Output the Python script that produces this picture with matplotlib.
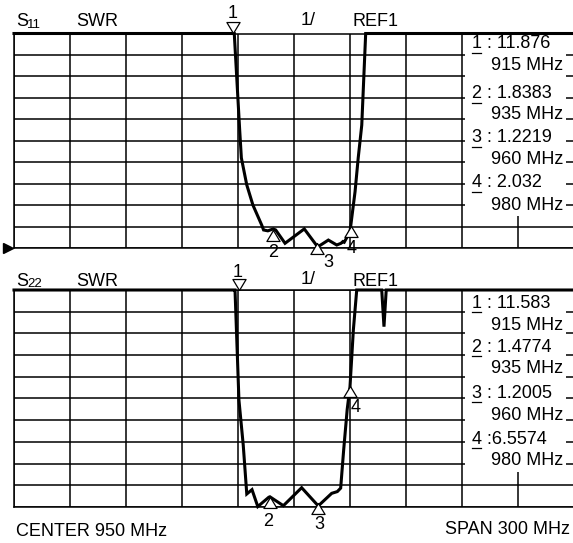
import numpy as np
import matplotlib
matplotlib.use("Agg")
import matplotlib.pyplot as plt
from matplotlib.path import Path
from matplotlib.patches import Rectangle
from matplotlib.lines import Line2D
from matplotlib.transforms import offset_copy

plt.rcParams['font.family'] = ['Liberation Sans', 'DejaVu Sans']

# ---------------- data ----------------
freq_start, freq_stop = 800, 1100       # CENTER 950 MHz, SPAN 300 MHz
swr_ref, swr_top = 1, 11                # REF 1, 1 / div

s11_freq = [800, 917.3, 918.0, 920.9, 921.8, 924.7, 928.0, 932.7, 933.7, 936.0,
            938.9, 940.2, 945.2, 955.5, 962.7, 968.4, 972.9, 975.2, 976.2, 976.9,
            980.0, 982.7, 984.4, 986.3, 988.4, 1100]
s11_swr = [12.5, 12.0, 11.0, 6.5, 5.2, 3.94, 3.0, 2.07, 1.84, 1.80,
           1.89, 1.84, 1.22, 1.89, 1.05, 1.37, 1.14, 1.22, 1.30, 1.27,
           1.76, 3.62, 5.2, 6.73, 11.0, 12.5]

s22_freq = [800, 918.0, 918.4, 920.5, 922.8, 924.7, 927.5, 930.6, 936.5, 937.1,
            944.3, 954.1, 963.0, 970.2, 973.2, 975.0, 976.6, 978.5, 980.0, 981.8,
            983.6, 997.0, 998.2, 999.4, 1100]
s22_swr = [12.5, 12.0, 11.0, 5.93, 3.86, 1.60, 1.80, 1.02, 1.45, 1.47,
           1.06, 1.89, 1.05, 1.63, 1.71, 1.87, 3.62, 5.5, 6.55, 9.16,
           11.0, 12.5, 9.31, 12.5, 12.5]

s11_marker_freq = [917.3, 938.8, 962.2, 980.4]
s11_marker_val = [11.876, 1.8383, 1.2219, 2.032]
s11_marker_mhz = ["915 MHz", "935 MHz", "960 MHz", "980 MHz"]
s11_marker_txt = ["1 : 11.876", "2 : 1.8383", "3 : 1.2219", "4 : 2.032"]

s22_marker_freq = [920.5, 937.1, 963.0, 980.0]
s22_marker_val = [11.583, 1.4774, 1.2005, 6.5574]
s22_marker_mhz = ["915 MHz", "935 MHz", "960 MHz", "980 MHz"]
s22_marker_txt = ["1 : 11.583", "2 : 1.4774", "3 : 1.2005", "4 :6.5574"]

# ---------------- layout ----------------
W, H = 573, 543
fig = plt.figure(figsize=(W / 100, H / 100), dpi=100)


def rect(x0, y0, x1, y1):
    return [x0 / W, 1 - y1 / H, (x1 - x0) / W, (y1 - y0) / H]


def fxy(x, y):
    return x / W, 1 - y / H


FS = 13
up_tri = Path([(0, 0), (-0.6, -1), (0.6, -1), (0, 0)],
              [Path.MOVETO, Path.LINETO, Path.LINETO, Path.CLOSEPOLY])
down_tri = Path([(0, 0), (-0.6, 1), (0.6, 1), (0, 0)],
                [Path.MOVETO, Path.LINETO, Path.LINETO, Path.CLOSEPOLY])


def panel(ax, freq, swr, mfreq, mval, label_off, mask_y0):
    ax.set_xlim(freq_start, freq_stop)
    ax.set_ylim(swr_ref, swr_top)
    ax.set_xticks(np.arange(freq_start, freq_stop + 1, 30))
    ax.set_yticks(np.arange(swr_ref, swr_top + 1, 1))
    ax.tick_params(length=0, labelbottom=False, labelleft=False)
    ax.set_axisbelow(True)
    ax.grid(True, color='black', lw=1.1)
    for s in ax.spines.values():
        s.set_color('black')
        s.set_linewidth(1.1)
    # readout area hides grid
    ax.add_patch(Rectangle((0.805, mask_y0), 0.18, 0.997 - mask_y0,
                           transform=ax.transAxes, facecolor='white',
                           edgecolor='none', zorder=1))
    ax.plot(freq, np.clip(swr, swr_ref, swr_top), color='black', lw=2.2,
            zorder=3, clip_on=False, solid_joinstyle='miter')
    for i, (f, v) in enumerate(zip(mfreq, mval)):
        vv = min(v, swr_top)
        path = down_tri if v >= swr_top else up_tri
        ax.plot([f], [vv], marker=path, ms=15.8, mfc='white', mec='black',
                mew=0.9, ls='none', zorder=5, clip_on=False)
        ax.annotate(str(i + 1), (f, vv), xytext=label_off[i],
                    textcoords='offset pixels', ha='center', va='center',
                    fontsize=FS, zorder=6, annotation_clip=False)


ax1 = fig.add_axes(rect(14, 33.5, 574, 248))
ax2 = fig.add_axes(rect(14, 290, 574, 507))

panel(ax1, s11_freq, s11_swr, s11_marker_freq, s11_marker_val,
      [(0, 20.5), (0, -22), (12, -19), (1, -23)], 0.149)
panel(ax2, s22_freq, s22_swr, s22_marker_freq, s22_marker_val,
      [(-1, 17.5), (-2, -25), (1, -22), (6, -21)], 0.161)

# reference arrow on top panel
ax1.plot([freq_start], [swr_ref], marker='>', ms=7, color='black', ls='none',
         clip_on=False,
         transform=offset_copy(ax1.transData, fig=fig, x=-6, y=0, units='dots'))

# ---------------- texts ----------------
def t(x, y, s, ha='left', size=FS):
    fig.text(*fxy(x, y), s, ha=ha, va='center', fontsize=size)


for (ytop, name, txts, mhz, rows) in [
        (22, "11", s11_marker_txt, s11_marker_mhz,
         [44, 65, 94, 114.5, 138, 159.3, 182.7, 205]),
        (281, "22", s22_marker_txt, s22_marker_mhz,
         [303.3, 325, 347.3, 368.3, 393.3, 415, 439.3, 460.7])]:
    t(16, ytop, "S")
    fig.text(*fxy(27, ytop + 6), name, ha='left', va='baseline', fontsize=9.5)
    t(76, ytop, "SWR")
    t(301, ytop - 1.5, "1/")
    t(353, ytop, "REF1")
    for k in range(4):
        yv, ym = rows[2 * k], rows[2 * k + 1]
        t(471.5, yv, txts[k])
        fig.add_artist(Line2D([471.5 / W, 480.5 / W],
                              [1 - (yv + 9) / H, 1 - (yv + 9) / H],
                              color='black', lw=0.9))
        t(563, ym, mhz[k], ha='right')

t(16, 531.5, "CENTER 950 MHz")
t(570, 529.5, "SPAN 300 MHz", ha='right')

fig.savefig("out.png", dpi=100)
